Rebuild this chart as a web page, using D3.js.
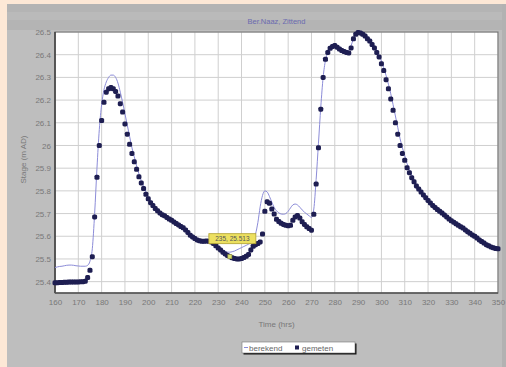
<!DOCTYPE html>
<html><head><meta charset="utf-8">
<script src="https://cdn.jsdelivr.net/npm/d3@7"></script>
<style>body{margin:0;background:#fde8d6;}svg{display:block;font-family:"Liberation Sans",Arial,sans-serif;}</style>
</head><body>
<svg id="c" width="506" height="367"></svg>
<script>
const title = "Ber.Naaz, Zittend";
const xTitle = "Time (hrs)";
const yTitle = "Stage (m AD)";
const seriesNames = ["berekend", "gemeten"];
const xTicks = [160,170,180,190,200,210,220,230,240,250,260,270,280,290,300,310,320,330,340,350];
const yTicks = [25.4,25.5,25.6,25.7,25.8,25.9,26.0,26.1,26.2,26.3,26.4,26.5];
const yTickLabels = ["25.4","25.5","25.6","25.7","25.8","25.9","26","26.1","26.2","26.3","26.4","26.5"];
const tooltip = {t:235, v:25.51, text:"235, 25.513"};

// measured (gemeten), hourly from 160 to 350
const measuredStart = 160;
const measured = [
25.395,25.395,25.396,25.396,25.397,25.397,25.398,25.398,25.398,25.399, // 160-169
25.399,25.400,25.400,25.402,25.418,25.450,25.510,25.685,25.860,26.000, // 170-179
26.110,26.190,26.235,26.250,26.255,26.250,26.238,26.218,26.184,26.147, // 180-189
26.095,26.050,26.005,25.965,25.928,25.895,25.862,25.835,25.810,25.785, // 190-199
25.765,25.748,25.735,25.722,25.712,25.703,25.695,25.690,25.683,25.676, // 200-209
25.670,25.663,25.656,25.650,25.643,25.637,25.628,25.617,25.605,25.597, // 210-219
25.590,25.584,25.580,25.578,25.578,25.579,25.578,25.575,25.568,25.558, // 220-229
25.548,25.540,25.530,25.522,25.515,25.510,25.505,25.502,25.500,25.500, // 230-239
25.502,25.506,25.512,25.520,25.540,25.556,25.563,25.568,25.575,25.610, // 240-249
25.710,25.752,25.745,25.720,25.698,25.675,25.665,25.657,25.652,25.648, // 250-259
25.646,25.648,25.670,25.685,25.692,25.680,25.664,25.652,25.642,25.634, // 260-269
25.627,25.697,25.830,25.990,26.160,26.300,26.380,26.410,26.428,26.436, // 270-279
26.440,26.433,26.425,26.418,26.414,26.410,26.408,26.430,26.470,26.490, // 280-289
26.498,26.496,26.490,26.482,26.470,26.460,26.445,26.430,26.410,26.390, // 290-299
26.360,26.330,26.290,26.250,26.205,26.155,26.100,26.050,26.000,25.965, // 300-309
25.935,25.902,25.880,25.858,25.840,25.822,25.808,25.795,25.782,25.770, // 310-319
25.758,25.747,25.736,25.727,25.718,25.710,25.702,25.694,25.685,25.676, // 320-329
25.668,25.662,25.655,25.648,25.642,25.636,25.628,25.620,25.613,25.606, // 330-339
25.600,25.592,25.584,25.577,25.570,25.563,25.558,25.553,25.549,25.546, // 340-349
25.545 // 350
];

// computed (berekend), hourly from 160 to 350
const computedStart = 160;
const computed = [
25.462,25.465,25.467,25.468,25.470,25.472,25.473,25.473,25.472,25.470, // 160-169
25.469,25.468,25.468,25.468,25.472,25.490,25.545,25.700,25.900,26.070, // 170-179
26.180,26.245,26.280,26.300,26.310,26.310,26.300,26.275,26.235,26.190, // 180-189
26.140,26.090,26.040,25.990,25.950,25.910,25.875,25.845,25.820,25.795, // 190-199
25.772,25.755,25.740,25.727,25.716,25.706,25.698,25.692,25.685,25.678, // 200-209
25.671,25.664,25.657,25.651,25.644,25.638,25.629,25.618,25.606,25.598, // 210-219
25.591,25.585,25.581,25.579,25.579,25.580,25.579,25.578,25.572,25.562, // 220-229
25.552,25.545,25.538,25.533,25.530,25.530,25.532,25.535,25.540,25.545, // 230-239
25.550,25.555,25.560,25.565,25.572,25.585,25.610,25.660,25.730,25.780, // 240-249
25.800,25.795,25.775,25.750,25.727,25.712,25.703,25.698,25.697,25.700, // 250-259
25.710,25.725,25.738,25.742,25.738,25.728,25.716,25.706,25.698,25.690, // 260-269
25.683,25.720,25.850,26.010,26.170,26.300,26.375,26.410,26.428,26.438, // 270-279
26.442,26.437,26.430,26.424,26.420,26.418,26.420,26.440,26.470,26.490, // 280-289
26.500,26.500,26.495,26.487,26.477,26.466,26.452,26.437,26.418,26.397, // 290-299
26.372,26.342,26.308,26.270,26.228,26.180,26.130,26.080,26.030,25.990, // 300-309
25.955,25.920,25.895,25.870,25.848,25.828,25.812,25.798,25.784,25.771, // 310-319
25.759,25.748,25.737,25.728,25.719,25.711,25.703,25.695,25.686,25.677, // 320-329
25.669,25.663,25.656,25.649,25.643,25.637,25.629,25.621,25.614,25.607, // 330-339
25.601,25.593,25.585,25.578,25.571,25.564,25.559,25.554,25.550,25.547, // 340-349
25.546 // 350
];

const svg = d3.select("#c");
// panels
svg.append("rect").attr("x",0).attr("y",0).attr("width",506).attr("height",367).attr("fill","#fde8d6");
svg.append("rect").attr("x",7).attr("y",4).attr("width",499).attr("height",363).attr("fill","#bebebe");
svg.append("rect").attr("x",7).attr("y",4).attr("width",499).attr("height",26).attr("fill","#b4b4b4");
svg.append("rect").attr("x",7).attr("y",12).attr("width",499).attr("height",8).attr("fill","#bababa");
svg.append("rect").attr("x",502).attr("y",4).attr("width",4).attr("height",363).attr("fill","#b2b2b2");

const L=55, R=498, T=32, B=293;
const x = d3.scaleLinear().domain([160,350]).range([L,R]);
const y = d3.scaleLinear().domain([25.35,26.5]).range([B,T]);

svg.append("rect").attr("x",L).attr("y",T).attr("width",R-L).attr("height",B-T).attr("fill","#ffffff");

// grid
const g = svg.append("g");
g.selectAll(".vg").data(xTicks).join("line")
  .attr("x1",d=>x(d)).attr("x2",d=>x(d)).attr("y1",T).attr("y2",B)
  .attr("stroke","#cfcfcf").attr("stroke-width",1);
g.selectAll(".hg").data(yTicks).join("line")
  .attr("x1",L).attr("x2",R).attr("y1",d=>y(d)).attr("y2",d=>y(d))
  .attr("stroke","#cfcfcf").attr("stroke-width",1);

// frame
svg.append("rect").attr("x",L).attr("y",T).attr("width",R-L).attr("height",B-T)
  .attr("fill","none").attr("stroke","#6a6a6a").attr("stroke-width",1);
svg.append("line").attr("x1",L).attr("x2",L).attr("y1",T).attr("y2",B).attr("stroke","#444").attr("stroke-width",1.6);
svg.append("line").attr("x1",L).attr("x2",R).attr("y1",B).attr("y2",B).attr("stroke","#555").attr("stroke-width",1.4);

// axes tick labels
const xAxis = d3.axisBottom(x).tickValues(xTicks).tickSize(0).tickPadding(6);
const ax = svg.append("g").attr("transform",`translate(0,${B})`).call(xAxis);
ax.select(".domain").remove();
ax.selectAll("text").attr("fill","#787878").attr("font-size",8).attr("font-family","Liberation Sans, Arial, sans-serif");

const yAxis = d3.axisLeft(y).tickValues(yTicks).tickSize(0).tickPadding(4)
  .tickFormat((d,i)=>yTickLabels[i]);
const ay = svg.append("g").attr("transform",`translate(${L},0)`).call(yAxis);
ay.select(".domain").remove();
ay.selectAll("text").attr("fill","#787878").attr("font-size",8).attr("font-family","Liberation Sans, Arial, sans-serif");

// titles
svg.append("text").attr("x",(L+R)/2).attr("y",24).attr("text-anchor","middle")
  .attr("font-size",7.5).attr("fill","#6b6bb0").text(title);
svg.append("text").attr("x",(L+R)/2).attr("y",327).attr("text-anchor","middle")
  .attr("font-size",8).attr("fill","#787878").text(xTitle);
svg.append("text").attr("transform",`translate(26,${(T+B)/2 - 3}) rotate(-90)`).attr("text-anchor","middle")
  .attr("font-size",8).attr("fill","#787878").text(yTitle);

// data
const compData = computed.map((v,i)=>({t:computedStart+i, v}));
const measData = measured.map((v,i)=>({t:measuredStart+i, v}));

const line = d3.line().x(d=>x(d.t)).y(d=>y(d.v)).curve(d3.curveMonotoneX);
svg.append("path").datum(compData).attr("d",line).attr("fill","none")
  .attr("stroke","#8c8cd8").attr("stroke-width",1);

const s = 5;
svg.append("g").selectAll("rect").data(measData).join("rect")
  .attr("x",d=>x(d.t)-s/2).attr("y",d=>y(d.v)-s/2).attr("width",s).attr("height",s)
  .attr("rx",1.6).attr("fill","#1e1e52");

// tooltip
const tx = x(tooltip.t), ty = y(tooltip.v);
svg.append("rect").attr("x",tx-2).attr("y",ty-2).attr("width",4).attr("height",4)
  .attr("fill","#d8e070").attr("stroke","#a0a040").attr("stroke-width",0.6);
svg.append("rect").attr("x",tx-21).attr("y",ty-23).attr("width",47).attr("height",10)
  .attr("fill","#ece060").attr("stroke","#b0a030").attr("stroke-width",0.8);
svg.append("text").attr("x",tx+2.5).attr("y",ty-15.6).attr("text-anchor","middle")
  .attr("font-size",6.5).attr("fill","#555").text(tooltip.text);

// legend
const lg = svg.append("g");
lg.append("rect").attr("x",243.5).attr("y",343.5).attr("width",113).attr("height",11).attr("fill","#111");
lg.append("rect").attr("x",242).attr("y",342).attr("width",113).attr("height",11).attr("fill","#ffffff").attr("stroke","#777").attr("stroke-width",0.6);
lg.append("line").attr("x1",244).attr("x2",248).attr("y1",347.5).attr("y2",347.5).attr("stroke","#8c8cd8").attr("stroke-width",1);
lg.append("text").attr("x",249).attr("y",350.5).attr("font-size",8).attr("fill","#666").text(seriesNames[0]);
lg.append("rect").attr("x",295).attr("y",345.5).attr("width",4).attr("height",4).attr("fill","#1e1e52");
lg.append("text").attr("x",302).attr("y",350.5).attr("font-size",8).attr("fill","#666").text(seriesNames[1]);
</script>
</body></html>
